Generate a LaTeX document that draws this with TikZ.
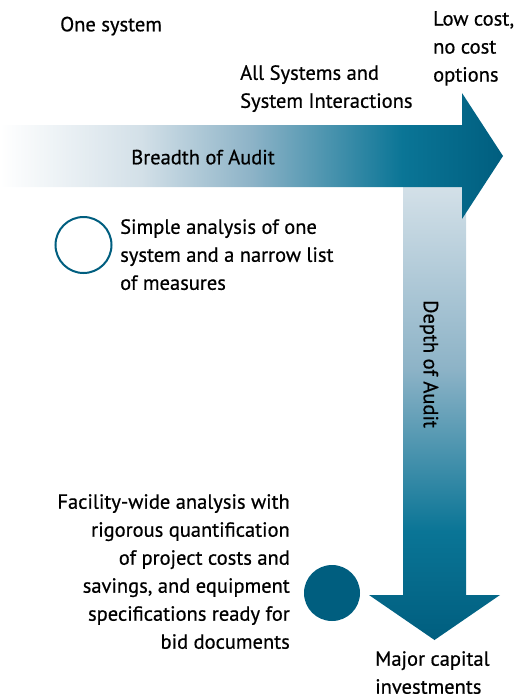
\documentclass[tikz,border=0pt]{standalone}
\usepackage{fontspec}
\setmainfont{PT Sans}[FakeBold=0.6]
\usetikzlibrary{positioning}

\definecolor{auditdark}{HTML}{005E7F}
\definecolor{auditmid}{HTML}{0A7596}
\definecolor{auditpale}{HTML}{8DB3C7}
\definecolor{auditlight}{HTML}{D3E0E8}

% the path covers the middle half (25bp--75bp) of a declared shading
\pgfdeclarehorizontalshading{breadth}{100bp}{color(0bp)=(white); color(25bp)=(white); color(39bp)=(auditlight); color(50bp)=(auditpale); color(65bp)=(auditmid); color(75bp)=(auditdark); color(100bp)=(auditdark)}
\pgfdeclareverticalshading{depth}{100bp}{color(0bp)=(auditdark); color(25bp)=(auditdark); color(37bp)=(auditmid); color(55bp)=(auditpale); color(75bp)=(auditlight); color(100bp)=(auditlight)}

\begin{document}
\begin{tikzpicture}[x=1pt,y=-1pt]

\tikzstyle{label}=[font=\fontsize{20.5}{28}\selectfont,inner sep=0pt,text depth=0pt]
\tikzstyle{marker}=[circle,minimum size=56pt,inner sep=0pt]

\def \shaft {31}
\def \head {63}

\useasboundingbox (0,0) rectangle (518,694);

% depth arrow (drawn first, breadth arrow lies on top)
\path[shading=depth] (403,187) -- (466,187) -- (466,595) -- (500,595)
  -- (434.5,640) -- (369,595) -- (403,595) -- cycle;

% breadth arrow
\path[shading=breadth] (0,156-\shaft) -- (462,156-\shaft) -- (462,156-\head)
  -- (503,156) -- (462,156+\head) -- (462,156+\shaft) -- (0,156+\shaft) -- cycle;

\node[label] (breadth) at (203,157) {Breadth of Audit};
\node[label,rotate=-90] (depth) at (431,364) {Depth of Audit};

% scale ends
\node[label,anchor=west] (one) at (60,24) {One system};
\node[label,anchor=north west,align=left] (all) at (240,65) {All Systems and\\System Interactions};
\node[label,anchor=north west,align=left] (low) at (433,11) {Low cost,\\no cost\\options};
\node[label,anchor=north west,align=left] (major) at (375,651) {Major capital\\investments};

% the two audit levels
\node[marker,draw=auditdark,line width=2pt] (simple) at (83.5,245) {};
\node[label,anchor=north west,align=left] (simpletext) at (120,219)
  {Simple analysis of one\\system and a narrow list\\of measures};

\node[marker,fill=auditdark] (full) at (332,593) {};
\node[label,anchor=north east,align=right] (fulltext) at (290,494)
  {Facility-wide analysis with\\rigorous quantification\\of project costs and\\savings, and equipment\\specifications ready for\\bid documents};

\end{tikzpicture}
\end{document}
